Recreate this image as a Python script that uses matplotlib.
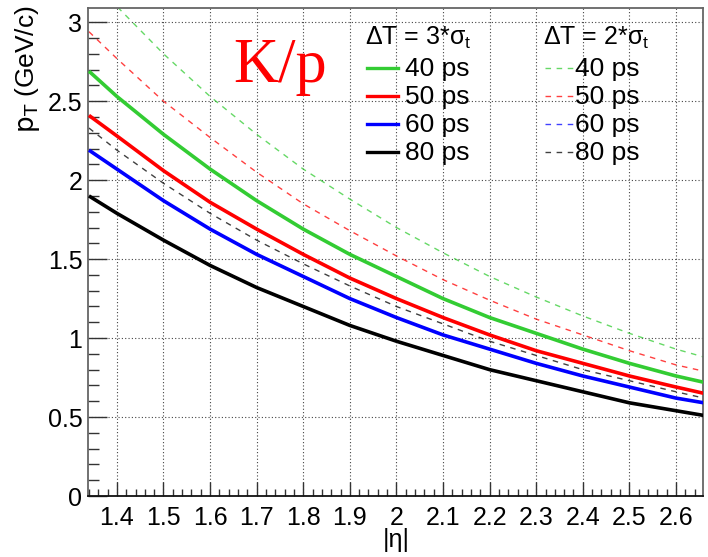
import matplotlib
matplotlib.use("Agg")
import matplotlib.pyplot as plt
from matplotlib.lines import Line2D
from matplotlib.ticker import MultipleLocator, FuncFormatter

plt.rcParams['font.family'] = ['Liberation Sans', 'DejaVu Sans']
plt.rcParams['mathtext.fontset'] = 'custom'
plt.rcParams['mathtext.rm'] = 'Liberation Sans'
plt.rcParams['mathtext.it'] = 'Liberation Sans'
plt.rcParams['mathtext.sf'] = 'Liberation Sans Narrow'

# pT reach for K/p separation vs |eta|
eta = [1.34, 1.4, 1.5, 1.6, 1.7, 1.8, 1.9, 2.0, 2.1, 2.2, 2.3, 2.4, 2.5, 2.6, 2.66]

# dT = 3*sigma_t
pt3_40 = [2.69, 2.53, 2.29, 2.07, 1.87, 1.69, 1.53, 1.39, 1.25, 1.13, 1.03, 0.93, 0.84, 0.76, 0.72]
pt3_50 = [2.41, 2.28, 2.06, 1.86, 1.69, 1.53, 1.38, 1.25, 1.13, 1.02, 0.92, 0.84, 0.76, 0.69, 0.65]
pt3_60 = [2.19, 2.07, 1.87, 1.69, 1.53, 1.39, 1.25, 1.13, 1.02, 0.93, 0.84, 0.76, 0.69, 0.62, 0.59]
pt3_80 = [1.90, 1.79, 1.62, 1.46, 1.32, 1.20, 1.08, 0.98, 0.89, 0.80, 0.73, 0.66, 0.59, 0.54, 0.51]

# dT = 2*sigma_t
pt2_40 = [3.29, 3.10, 2.80, 2.53, 2.29, 2.07, 1.88, 1.70, 1.54, 1.39, 1.26, 1.14, 1.03, 0.93, 0.88]
pt2_50 = [2.94, 2.77, 2.50, 2.27, 2.05, 1.85, 1.68, 1.52, 1.37, 1.24, 1.12, 1.02, 0.92, 0.83, 0.79]
pt2_60 = [2.69, 2.53, 2.29, 2.07, 1.87, 1.69, 1.53, 1.39, 1.25, 1.13, 1.03, 0.93, 0.84, 0.76, 0.72]
pt2_80 = [2.33, 2.19, 1.98, 1.79, 1.62, 1.47, 1.33, 1.20, 1.09, 0.98, 0.89, 0.80, 0.73, 0.66, 0.62]

labels = ['40 ps', '50 ps', '60 ps', '80 ps']
colors = ['#33cc33', '#ff0000', '#0000ff', '#000000']
solid = [pt3_40, pt3_50, pt3_60, pt3_80]
dashed = [pt2_40, pt2_50, pt2_60, pt2_80]

W, H = 708, 557
fig = plt.figure(figsize=(W / 100, H / 100), dpi=100)
ax = fig.add_axes([88 / W, 1 - 496 / H, 615 / W, 488 / H])

def fx(px):
    return px / W

def fy(py):
    return 1 - py / H

dash = (0, (4, 4))
for ys, c in zip(dashed, colors):
    ax.plot(eta, ys, color=c, lw=1.0, ls=dash, alpha=0.75, zorder=2)
for ys, c in zip(solid, colors):
    ax.plot(eta, ys, color=c, lw=2.6, zorder=3, solid_capstyle='butt')

ax.set_xlim(1.338, 2.658)
ax.set_ylim(0, 3.09)

ax.xaxis.set_major_locator(MultipleLocator(0.1))
ax.xaxis.set_minor_locator(MultipleLocator(0.02))
ax.yaxis.set_major_locator(MultipleLocator(0.5))
ax.yaxis.set_minor_locator(MultipleLocator(0.1))
ax.xaxis.set_major_formatter(FuncFormatter(lambda v, p: '%g' % round(v, 2)))
ax.yaxis.set_major_formatter(FuncFormatter(lambda v, p: '%g' % round(v, 2)))

ax.tick_params(axis='x', which='major', direction='in', length=10, width=1,
               color='#333333', labelsize=18, pad=7)
ax.tick_params(axis='x', which='minor', direction='in', length=5, width=1,
               color='#333333')
ax.tick_params(axis='y', which='major', direction='in', length=14, width=1,
               color='#333333', labelsize=18, pad=4)
ax.tick_params(axis='y', which='minor', direction='in', length=8, width=1,
               color='#333333')

ax.grid(True, which='major', color='#444444', ls=(0, (1, 2)), lw=0.8, zorder=0)

for side in ['top', 'right', 'left']:
    ax.spines[side].set_color('#666666')
    ax.spines[side].set_linewidth(1.3)
ax.spines['bottom'].set_color('#111111')
ax.spines['bottom'].set_linewidth(1.3)

ax.set_xlabel('|η|', fontsize=18)
ax.xaxis.set_label_coords((396 - 88) / 615, (496 - 528) / 488)

# narrow, top-aligned y title
ax.set_ylabel(r'$\mathsf{p_{T}}$ (GeV/c)', fontsize=19,
              family=['Liberation Sans Narrow', 'Liberation Sans'])
ax.yaxis.label.set(rotation_mode='default', ha='left', va='top')
ax.yaxis.set_label_coords((13 - 88) / 615, (496 - 5) / 488)

fig.text(fx(233), fy(82), 'K/p', color='red', fontsize=45,
         family='Liberation Serif', va='baseline')

# two-column key: solid = 3 sigma, dashed = 2 sigma
fig.text(fx(365), fy(45), r'$\mathrm{\Delta}$T = 3*$\mathrm{\sigma_{t}}$',
         fontsize=18, va='baseline')
fig.text(fx(543), fy(45), r'$\mathrm{\Delta}$T = 2*$\mathrm{\sigma_{t}}$',
         fontsize=18, va='baseline')
baselines = [76, 104, 132, 160]
for lab, c, b in zip(labels, colors, baselines):
    yl = fy(b - 8.5)
    fig.add_artist(Line2D([fx(367), fx(398)], [yl, yl], color=c, lw=2.4,
                          transform=fig.transFigure))
    fig.text(fx(405), fy(b), lab, fontsize=19, va='baseline')
    fig.add_artist(Line2D([fx(545), fx(573)], [yl, yl], color=c, lw=1.0,
                          ls=dash, alpha=0.75, transform=fig.transFigure))
    fig.text(fx(575), fy(b), lab, fontsize=19, va='baseline')

fig.savefig('out.png', dpi=100)
